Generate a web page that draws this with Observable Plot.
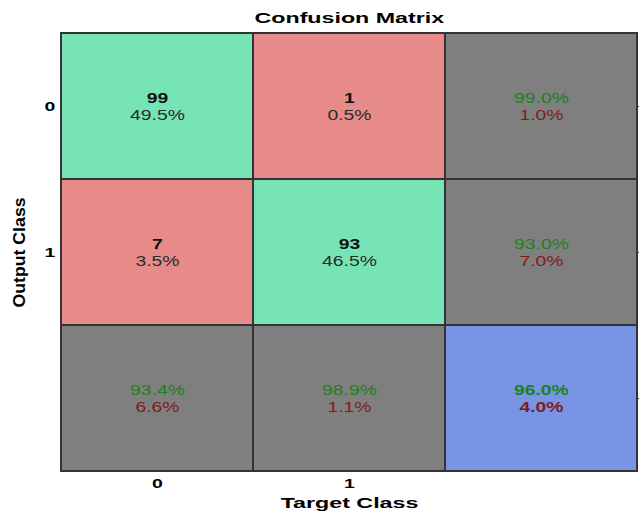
<!DOCTYPE html>
<html><head><meta charset="utf-8">
<script src="https://cdn.jsdelivr.net/npm/d3@7"></script>
<script src="https://cdn.jsdelivr.net/npm/@observablehq/plot@0.6"></script>
<style>body{margin:0;background:#fff} svg{font-family:"Liberation Sans",Arial,sans-serif}</style>
</head><body><div id="chart"></div>
<script>
const title = "Confusion Matrix";
const xLabel = "Target Class";
const yLabel = "Output Class";
const classes = ["0", "1"];
const summaryKey = "S";
const counts = [[99, 1], [7, 93]]; // rows: output class, cols: target class
const cellPct = [["49.5%", "0.5%"], ["3.5%", "46.5%"]];
const rowCorrect = ["99.0%", "93.0%"];
const rowWrong = ["1.0%", "7.0%"];
const colCorrect = ["93.4%", "98.9%"];
const colWrong = ["6.6%", "1.1%"];
const overallCorrect = "96.0%";
const overallWrong = "4.0%";

const colors = {correct: "#77e4b5", wrong: "#e68a8a", summary: "#7f7f7f", overall: "#7895e5"};
const green = "#1f7f1f", red = "#851a1a";

const keys = [...classes, summaryKey];
const cells = [];
classes.forEach((o, i) => classes.forEach((t, j) => cells.push({o, t, fill: i === j ? colors.correct : colors.wrong, top: String(counts[i][j]), bottom: cellPct[i][j], kind: "main"})));
classes.forEach((o, i) => cells.push({o, t: summaryKey, fill: colors.summary, top: rowCorrect[i], bottom: rowWrong[i], kind: "sum"}));
classes.forEach((t, j) => cells.push({o: summaryKey, t, fill: colors.summary, top: colCorrect[j], bottom: colWrong[j], kind: "sum"}));
cells.push({o: summaryKey, t: summaryKey, fill: colors.overall, top: overallCorrect, bottom: overallWrong, kind: "all"});

const main = cells.filter(d => d.kind === "main");
const sum = cells.filter(d => d.kind === "sum");
const all = cells.filter(d => d.kind === "all");

const chart = Plot.plot({
  width: 639, height: 514,
  marginLeft: 61, marginRight: 2, marginTop: 33, marginBottom: 43,
  x: {type: "band", domain: keys, padding: 0, axis: null},
  y: {type: "band", domain: keys, padding: 0, axis: null},
  color: {type: "identity"},
  style: {fontFamily: "Liberation Sans, Arial, sans-serif", background: "#fff"},
  marks: [
    Plot.cell(cells, {x: "t", y: "o", fill: "fill", stroke: "#333", strokeWidth: 2}),
    Plot.text(main, {x: "t", y: "o", text: "top", dy: -8, fontSize: 14, fontWeight: "bold", fill: "#111"}),
    Plot.text(main, {x: "t", y: "o", text: "bottom", dy: 9, fontSize: 14, fill: "#2a2a2a"}),
    Plot.text(sum, {x: "t", y: "o", text: "top", dy: -8, fontSize: 14, fill: green}),
    Plot.text(sum, {x: "t", y: "o", text: "bottom", dy: 9, fontSize: 14, fill: red}),
    Plot.text(all, {x: "t", y: "o", text: "top", dy: -8, fontSize: 14, fontWeight: "bold", fill: green}),
    Plot.text(all, {x: "t", y: "o", text: "bottom", dy: 9, fontSize: 14, fontWeight: "bold", fill: red}),
    Plot.text(classes, {x: d => d, frameAnchor: "bottom", dy: 16, fontSize: 13, fontWeight: "bold", fill: "#000"}),
    Plot.text(classes, {y: d => d, frameAnchor: "left", dx: -8, textAnchor: "end", fontSize: 13, fontWeight: "bold", fill: "#000"}),
    Plot.text([title], {frameAnchor: "top", dy: -21, fontSize: 15, fontWeight: "bold", fill: "#000"}),
    Plot.text([xLabel], {frameAnchor: "bottom", dy: 36, fontSize: 15, fontWeight: "bold", fill: "#000"}),
    Plot.text([yLabel], {frameAnchor: "left", dx: -42, rotate: -90, textAnchor: "middle", fontSize: 15, fontWeight: "bold", fill: "#000"}),
    Plot.axisY(keys, {anchor: "right", tickSize: 2, tickFormat: () => "", label: null, stroke: "#333"})
  ]
});

document.getElementById("chart").appendChild(chart);
// horizontal stretch of the reference's rendering, per text mark (in mark order)
const stretches = [[1.38, 1], [1.38, 1], [1.38, 1], [1.38, 1], [1.38, 1], [1.38, 1], [1.5, 1], [1.5, 1], [1.55, 1], [1.55, 1], [1.18, 1.1]];
const groups = chart.querySelectorAll('g[aria-label="text"]');
groups.forEach((g, gi) => {
  const s = stretches[gi];
  if (!s) return;
  g.querySelectorAll("text").forEach(t => {
    const b = t.getBBox();
    const cx = b.x + b.width / 2, cy = b.y + b.height / 2;
    const tr = t.getAttribute("transform") || "";
    t.setAttribute("transform", `${tr} translate(${cx},${cy}) scale(${s[0]},${s[1]}) translate(${-cx},${-cy})`);
  });
});
</script>
</body></html>
